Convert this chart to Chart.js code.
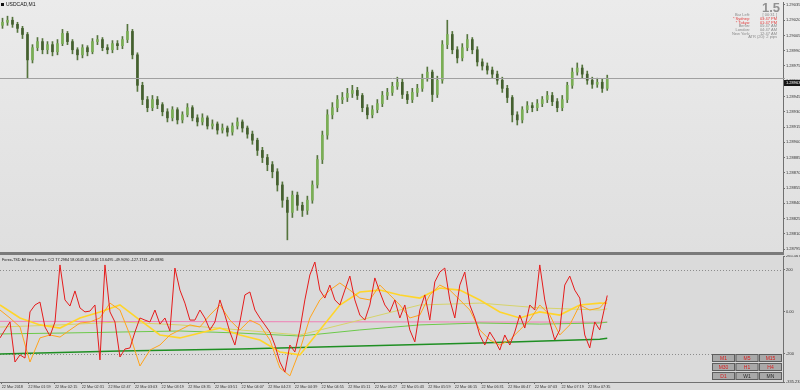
<!DOCTYPE html>
<html><head><meta charset="utf-8">
<script src="https://cdn.jsdelivr.net/npm/chart.js@4.4.1/dist/chart.umd.min.js"></script>
<style>
html,body{margin:0;padding:0;background:#dcdcdc;width:800px;height:390px;overflow:hidden}
#top{position:absolute;left:0;top:0;width:800px;height:253px;background:linear-gradient(#ebebeb,#dfdfdf)}
#sep{position:absolute;left:0;top:252px;width:784px;height:3px;background:#7a7a7a}
#bot{position:absolute;left:0;top:255px;width:800px;height:135px;background:#dadada}
canvas{position:absolute;left:0;top:0}
</style></head><body>
<div id="top"><canvas id="c1" width="800" height="253"></canvas></div>
<div id="sep"></div>
<div id="bot"><canvas id="c2" width="800" height="135"></canvas></div>
<script>
// ---------- DATA ----------
const symbolTitle = 'USDCAD,M1';
const chartStart = '01:42';
const barMinutes = 3;   // each candle aggregates 3 minutes
const axisEndMinute = 470;
const tickTimes = ['01:43','01:59','02:15','02:31','02:47','03:03','03:19','03:35','03:51','04:07','04:23','04:39','04:55','05:11','05:27','05:43','05:59','06:15','06:31','06:47','07:03','07:19','07:35'];
const firstTickLabel = '22 Mar 2018';
const datePrefix = '22 Mar ';

const opens = [1.29015,1.29018,1.29020,1.29016,1.29012,1.29006,1.28981,1.28993,1.28999,1.28991,
1.28996,1.28989,1.28997,1.29007,1.28999,1.28991,1.28986,1.28993,1.28989,1.28999,
1.29001,1.28993,1.28991,1.28997,1.28995,1.29001,1.29009,1.28986,1.28956,1.28942,
1.28934,1.28942,1.28937,1.28930,1.28924,1.28932,1.28922,1.28927,1.28934,1.28924,
1.28920,1.28924,1.28916,1.28918,1.28912,1.28914,1.28910,1.28916,1.28920,1.28914,
1.28908,1.28902,1.28892,1.28885,1.28878,1.28871,1.28858,1.28843,1.28831,1.28848,
1.28838,1.28833,1.28843,1.28858,1.28883,1.28907,1.28927,1.28934,1.28942,1.28944,
1.28948,1.28951,1.28946,1.28934,1.28927,1.28932,1.28938,1.28946,1.28949,1.28955,
1.28959,1.28947,1.28942,1.28949,1.28953,1.28963,1.28969,1.28947,1.28961,1.28996,
1.29006,1.28991,1.28983,1.28993,1.29001,1.28991,1.28979,1.28975,1.28971,1.28967,
1.28961,1.28953,1.28944,1.28927,1.28922,1.28932,1.28936,1.28934,1.28938,1.28942,
1.28946,1.28940,1.28934,1.28942,1.28956,1.28969,1.28973,1.28967,1.28961,1.28957,
1.28959,1.28953];
const closes = [1.29018,1.29020,1.29016,1.29012,1.29006,1.28981,1.28993,1.28999,1.28991,1.28996,
1.28989,1.28997,1.29007,1.28999,1.28991,1.28986,1.28993,1.28989,1.28999,1.29001,
1.28993,1.28991,1.28997,1.28995,1.29001,1.29009,1.28986,1.28956,1.28942,1.28934,
1.28942,1.28937,1.28930,1.28924,1.28932,1.28922,1.28927,1.28934,1.28924,1.28920,
1.28924,1.28916,1.28918,1.28912,1.28914,1.28910,1.28916,1.28920,1.28914,1.28908,
1.28902,1.28892,1.28885,1.28878,1.28871,1.28858,1.28843,1.28831,1.28848,1.28838,
1.28833,1.28843,1.28858,1.28883,1.28907,1.28927,1.28934,1.28942,1.28944,1.28948,
1.28951,1.28946,1.28934,1.28927,1.28932,1.28938,1.28946,1.28949,1.28955,1.28959,
1.28947,1.28942,1.28949,1.28953,1.28963,1.28969,1.28947,1.28961,1.28996,1.29006,
1.28991,1.28983,1.28993,1.29001,1.28991,1.28979,1.28975,1.28971,1.28967,1.28961,
1.28953,1.28944,1.28927,1.28922,1.28932,1.28936,1.28934,1.28938,1.28942,1.28946,
1.28940,1.28934,1.28942,1.28956,1.28969,1.28973,1.28967,1.28961,1.28957,1.28959,
1.28953,1.28963];
const highs = [1.29022,1.29024,1.29023,1.29018,1.29014,1.29008,1.28996,1.29003,1.29002,1.28999,
1.28999,1.29001,1.29011,1.29009,1.29001,1.28993,1.28996,1.28995,1.29002,1.29005,
1.29003,1.28996,1.29000,1.29000,1.29004,1.29016,1.29011,1.28988,1.28959,1.28945,
1.28946,1.28945,1.28939,1.28933,1.28935,1.28934,1.28930,1.28938,1.28936,1.28927,
1.28928,1.28926,1.28922,1.28920,1.28918,1.28916,1.28919,1.28924,1.28922,1.28916,
1.28911,1.28904,1.28895,1.28888,1.28881,1.28874,1.28861,1.28846,1.28852,1.28851,
1.28841,1.28847,1.28862,1.28887,1.28911,1.28932,1.28939,1.28946,1.28949,1.28953,
1.28956,1.28954,1.28948,1.28937,1.28936,1.28942,1.28950,1.28953,1.28959,1.28964,
1.28962,1.28950,1.28953,1.28957,1.28967,1.28974,1.28971,1.28965,1.29000,1.29020,
1.29009,1.28994,1.28997,1.29006,1.29003,1.28994,1.28982,1.28978,1.28974,1.28970,
1.28964,1.28956,1.28946,1.28930,1.28935,1.28940,1.28939,1.28942,1.28945,1.28950,
1.28949,1.28943,1.28946,1.28959,1.28973,1.28978,1.28976,1.28970,1.28964,1.28963,
1.28962,1.28966];
const lows = [1.29012,1.29015,1.29013,1.29008,1.29002,1.28963,1.28978,1.28990,1.28987,1.28987,
1.28985,1.28986,1.28995,1.28996,1.28987,1.28981,1.28983,1.28985,1.28987,1.28996,
1.28990,1.28987,1.28988,1.28991,1.28992,1.28998,1.28982,1.28950,1.28937,1.28930,
1.28931,1.28933,1.28926,1.28920,1.28921,1.28918,1.28919,1.28925,1.28921,1.28916,
1.28917,1.28913,1.28913,1.28908,1.28909,1.28906,1.28907,1.28913,1.28910,1.28904,
1.28898,1.28887,1.28880,1.28872,1.28865,1.28852,1.28836,1.28804,1.28826,1.28833,
1.28827,1.28829,1.28840,1.28855,1.28879,1.28903,1.28923,1.28930,1.28938,1.28940,
1.28944,1.28942,1.28930,1.28923,1.28924,1.28929,1.28935,1.28942,1.28946,1.28952,
1.28943,1.28938,1.28939,1.28945,1.28950,1.28960,1.28940,1.28944,1.28958,1.28992,
1.28987,1.28978,1.28980,1.28990,1.28987,1.28975,1.28971,1.28967,1.28963,1.28957,
1.28949,1.28939,1.28920,1.28917,1.28919,1.28929,1.28930,1.28931,1.28935,1.28939,
1.28936,1.28930,1.28931,1.28939,1.28953,1.28966,1.28963,1.28957,1.28953,1.28954,
1.28949,1.28951];

const priceTicks = [1.29035,1.29020,1.29005,1.28990,1.28975,1.28960,1.28945,1.28930,1.28915,1.28900,1.28885,1.28870,1.28855,1.28840,1.28825,1.28810,1.28795];
const priceMin = 1.2879205, priceMax = 1.2903795;

// CCI per timeframe (last value = current reading)
const tfNames = ['M1','M5','M15','M30','H1','H4','D1'];
const legendValues = [77.2984, 58.0645, 40.5846, 13.6495, -49.9090, -127.1741, -49.6886];
const tfStepMinutes = [3, 6, 12, 36, 36, 72, 90];
const cciM1 = [-125,-87,-49,-240,-206,-221,-1,32,46,-73,
-116,-49,223,56,27,99,18,-1,3,32,
-230,223,-1,-49,-216,-178,-173,-97,-30,-40,
-49,8,-59,-30,-92,208,103,41,-40,-40,
8,-30,-87,-49,56,-16,-97,-159,-49,80,
94,8,-30,-63,-97,-159,-240,-288,-159,-192,
-87,56,175,237,103,65,127,56,32,103,
170,56,-16,-40,32,161,94,32,-1,56,
-30,32,-87,-144,8,80,-40,142,189,208,
56,-30,127,189,32,-30,-111,-159,-97,-135,
-183,-111,-159,-97,-16,-78,32,8,223,56,
-49,-135,-87,127,170,103,65,-111,-173,-49,
-87,77.2984];
const cciM5 = [8,-30,-73,-240,-125,-111,-121,-87,-54,-49,
-30,41,8,-111,-259,-183,-159,-111,-87,-63,
-73,-16,32,-40,-87,-40,-63,-135,-268,-306,
-183,-30,56,103,137,103,65,56,127,80,
32,-30,-16,80,127,103,56,8,-87,-135,
-159,-135,-87,-40,32,-16,-111,-63,32,8,
18,58.0645];
const cciM15 = [32,-30,-63,-78,-30,-1,32,-40,-111,-125,-102,-78,-111,-135,-192,-206,-87,32,94,103,80,65,113,103,56,-1,-30,-1,-16,32,41,40.5846];
const cciM30 = [-73,-63,-49,-63,-87,-111,-40,32,41,18,8,13.6495];
const cciH1 = [-106,-102,-97,-92,-102,-116,-87,-63,-54,-59,-54,-49.9090];
const cciH4 = [-202,-187,-178,-164,-149,-131,-127.1741];
const cciD1 = [-46,-47,-48,-49,-49.5,-49.6886];
const cciTicks = [265.5673, 200, 0, -200, -335.2322];
const cciLevels = [200, -200];

const spreadText = '1.5';
const infoLabels = ['Bar Left:', '* Sydney:', '* Tokyo:', 'Berlin:', 'London:', 'New York:'];
const infoValues = ['[ 00:31 ]', '03:47 PM', '01:47 PM', '05:47 AM', '04:47 AM', '12:47 AM'];
const infoHot = [false, true, true, false, false, false];
const atrText = 'ATR (20): 2 pips';
const tfButtons = ['M1','M5','M15','M30','H1','H4','D1','W1','MN'];
const tfButtonHot = [true,true,true,true,true,true,true,false,false];

// ---------- HELPERS ----------
const FF = '"Liberation Sans", Arial, sans-serif';
Chart.defaults.font.family = FF;
const toMin = t => { const [h, m] = t.split(':').map(Number); return h * 60 + m; };
const startMin = toMin(chartStart);
const tickMinutes = tickTimes.map(t => toMin(t) - startMin);
const tickLabels = tickTimes.map((t, i) => i === 0 ? firstTickLabel : datePrefix + t);
const candleMid = i => i * barMinutes + barMinutes / 2;
const lastMinute = candleMid(closes.length - 1);

const upFill = '#7aae55', downFill = '#44602f', wickCol = '#55743d';

const noPad = s => { s.paddingTop = 0; s.paddingBottom = 0; s.paddingLeft = 0; s.paddingRight = 0; };

// ---------- TOP (price) ----------
const decorTop = {
  id: 'decorTop',
  afterDraw(chart) {
    const { ctx, chartArea: a, scales: { y } } = chart;
    const last = closes[closes.length - 1];
    ctx.save();
    const py = Math.round(y.getPixelForValue(last)) + 0.5;
    ctx.strokeStyle = '#a0a0a0'; ctx.lineWidth = 1;
    ctx.beginPath(); ctx.moveTo(a.left, py); ctx.lineTo(a.right + 2, py); ctx.stroke();
    ctx.fillStyle = '#151515'; ctx.fillRect(a.right + 1, py + 1.5, 17, 6);
    ctx.fillStyle = '#ffffff'; ctx.font = '4px ' + FF; ctx.textBaseline = 'middle'; ctx.textAlign = 'left';
    ctx.fillText(last.toFixed(5), a.right + 3, py + 4.5);
    // symbol title
    ctx.fillStyle = '#111'; ctx.fillRect(1, 3, 3, 3);
    ctx.font = '5px ' + FF; ctx.fillText(symbolTitle, 6, 5);
    // info block
    ctx.textAlign = 'right'; ctx.textBaseline = 'alphabetic';
    ctx.fillStyle = '#919191'; ctx.font = 'bold 13px ' + FF;
    ctx.fillText(spreadText, 780, 12);
    ctx.font = '4px ' + FF; ctx.textBaseline = 'middle';
    infoLabels.forEach((lab, i) => {
      const ry = 15 + i * 3.7;
      ctx.fillStyle = infoHot[i] ? '#e23b3b' : '#8a8a8a';
      ctx.fillText(lab, 750, ry);
      ctx.fillText(infoValues[i], 777, ry);
    });
    ctx.fillStyle = '#8a8a8a';
    ctx.fillText(atrText, 777, 15 + infoLabels.length * 3.7);
    ctx.restore();
  }
};

new Chart(document.getElementById('c1'), {
  type: 'bar',
  data: {
    datasets: [
      {
        data: opens.map((o, i) => ({ x: candleMid(i), y: [Math.min(o, closes[i]), Math.max(o, closes[i])] })),
        backgroundColor: opens.map((o, i) => closes[i] >= o ? upFill : downFill),
        barThickness: 2, minBarLength: 1, grouped: false, borderWidth: 0
      },
      {
        data: highs.map((h, i) => ({ x: candleMid(i), y: [lows[i], h] })),
        backgroundColor: wickCol, barThickness: 1, grouped: false, borderWidth: 0
      }
    ]
  },
  options: {
    responsive: false, animation: false, devicePixelRatio: 1,
    layout: { padding: { top: 2, bottom: 1, left: 0, right: 0 } },
    plugins: { legend: { display: false }, tooltip: { enabled: false } },
    scales: {
      x: { type: 'linear', min: 0, max: axisEndMinute, display: false, offset: false },
      y: {
        position: 'right', min: priceMin, max: priceMax,
        afterBuildTicks: s => { s.ticks = priceTicks.map(v => ({ value: v })); },
        afterFit: s => { s.width = 17; noPad(s); },
        ticks: { font: { size: 4 }, color: '#333', padding: 1, autoSkip: false, callback: v => Number(v).toFixed(5) },
        grid: { display: true, drawOnChartArea: false, drawTicks: true, tickLength: 2, color: '#707070' },
        border: { display: true, color: '#707070' }
      }
    }
  },
  plugins: [decorTop]
});

// ---------- BOTTOM (CCI) ----------
const seriesPoints = (vals, step) => vals.map((v, k) => ({ x: k === vals.length - 1 ? lastMinute : k * step, y: v }));
const allCci = [cciM1, cciM5, cciM15, cciM30, cciH1, cciH4, cciD1];
const cciColors = ['#e51b1b', '#ffa41c', '#ffd52a', '#d6d36a', '#6cc94a', '#1f8f23', '#f07fb4'];
const cciWidths = [1, 1, 1.6, 1, 1, 1.5, 1];

const decorBot = {
  id: 'decorBot',
  beforeDatasetsDraw(chart) {
    const { ctx, chartArea: a, scales: { y } } = chart;
    ctx.save();
    ctx.strokeStyle = '#8c8c8c'; ctx.lineWidth = 1; ctx.setLineDash([1, 2]);
    cciLevels.forEach(l => {
      const py = Math.round(y.getPixelForValue(l)) + 0.5;
      ctx.beginPath(); ctx.moveTo(a.left, py); ctx.lineTo(a.right, py); ctx.stroke();
    });
    ctx.restore();
  },
  afterDraw(chart) {
    const { ctx } = chart;
    ctx.save();
    ctx.fillStyle = '#1a1a1a'; ctx.font = '3.8px ' + FF; ctx.textBaseline = 'middle'; ctx.textAlign = 'left';
    ctx.fillText('Forex-TSD All time frames CCI ' + legendValues.map(v => v.toFixed(4)).join(' '), 2, 4.5);
    // timeframe buttons
    const colX = [712, 735.5, 759], colW = 23, rowY = [99, 108, 117], rowH = 8;
    ctx.font = '5px ' + FF; ctx.textAlign = 'center';
    tfButtons.forEach((b, i) => {
      const bx = colX[i % 3], by = rowY[Math.floor(i / 3)];
      ctx.fillStyle = '#a9a9a9'; ctx.fillRect(bx, by, colW, rowH);
      ctx.strokeStyle = '#5e5e5e'; ctx.lineWidth = 1; ctx.strokeRect(bx + 0.5, by + 0.5, colW - 1, rowH - 1);
      ctx.fillStyle = tfButtonHot[i] ? '#d81e1e' : '#2a2a2a';
      ctx.fillText(b, bx + colW / 2, by + rowH / 2 + 0.5);
    });
    ctx.restore();
  }
};

new Chart(document.getElementById('c2'), {
  type: 'line',
  data: {
    datasets: allCci.map((vals, i) => ({
      label: tfNames[i],
      data: seriesPoints(vals, tfStepMinutes[i]),
      borderColor: cciColors[i], borderWidth: cciWidths[i],
      pointRadius: 0, tension: 0, fill: false
    }))
  },
  options: {
    responsive: false, animation: false, devicePixelRatio: 1,
    layout: { padding: { top: 1, bottom: 0, left: 0, right: 0 } },
    plugins: { legend: { display: false }, tooltip: { enabled: false } },
    scales: {
      x: {
        type: 'linear', min: 0, max: axisEndMinute, position: 'bottom',
        afterBuildTicks: s => { s.ticks = tickMinutes.map(v => ({ value: v })); },
        afterFit: s => { s.height = 8; noPad(s); },
        ticks: { font: { size: 3.8 }, color: '#333', padding: 0.5, align: 'start', maxRotation: 0, autoSkip: false,
                 callback: (v, i) => tickLabels[i] },
        grid: { display: true, drawOnChartArea: false, drawTicks: true, tickLength: 2, color: '#707070' },
        border: { display: true, color: '#707070' }
      },
      y: {
        position: 'right', min: cciTicks[cciTicks.length - 1], max: cciTicks[0],
        afterBuildTicks: s => { s.ticks = cciTicks.map(v => ({ value: v })); },
        afterFit: s => { s.width = 17; noPad(s); },
        ticks: { font: { size: 4 }, color: '#333', padding: 1, autoSkip: false,
                 callback: v => v === 0 ? '0.00' : (Number.isInteger(v) ? String(v) : Number(v).toFixed(4)) },
        grid: { display: true, drawOnChartArea: false, drawTicks: true, tickLength: 2, color: '#707070' },
        border: { display: true, color: '#707070' }
      }
    }
  },
  plugins: [decorBot]
});
</script>
</body></html>
